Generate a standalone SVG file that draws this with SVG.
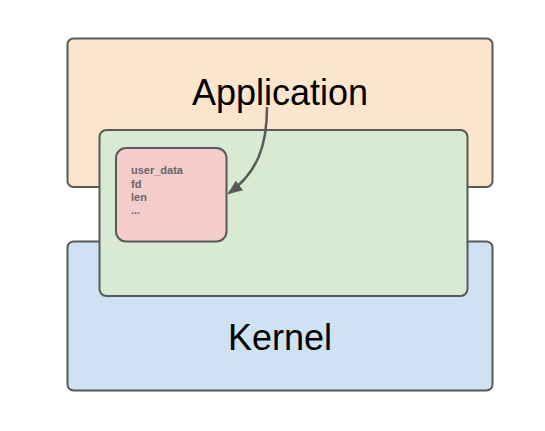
<svg xmlns="http://www.w3.org/2000/svg" width="545" height="431" viewBox="0 0 545 431">
<style>
.box{stroke:#595959;stroke-width:2}
.big{font-family:"Liberation Sans",Arial,sans-serif;font-size:36px;fill:#000;text-anchor:middle}
.small{font-family:"Liberation Sans",Arial,sans-serif;font-size:11px;font-weight:bold;fill:#666}
</style>
<defs>
<marker id="ah" markerWidth="15" markerHeight="12" refX="13" refY="6" orient="auto" markerUnits="userSpaceOnUse" viewBox="0 0 15 12">
<path d="M0,0 L15,6 L0,12 z" fill="#595959"/>
</marker>
</defs>
<rect width="545" height="431" fill="#fff"/>
<g id="application">
<rect class="box" x="67.5" y="38.5" width="425" height="148.5" rx="6" fill="#fce5cd"/>
<text class="big" x="280" y="105">Application</text>
</g>
<g id="kernel">
<rect class="box" x="67.5" y="241.5" width="425" height="149" rx="6" fill="#cfe2f3"/>
<text class="big" x="280" y="350">Kernel</text>
</g>
<g id="shared">
<rect class="box" x="99.5" y="130" width="368" height="166" rx="7" fill="#d9ead3"/>
</g>
<g id="sqe">
<rect class="box" x="116" y="148" width="110.5" height="93.5" rx="10" fill="#f4cccc"/>
<text class="small" x="131" y="174">user_data</text>
<text class="small" x="131" y="188">fd</text>
<text class="small" x="131" y="201">len</text>
<text class="small" x="131" y="214">...</text>
</g>
<g id="connectors">
<path d="M267,107 C267,145 258,172 229,193" fill="none" stroke="#595959" stroke-width="2.5" marker-end="url(#ah)"/>
</g>
</svg>
